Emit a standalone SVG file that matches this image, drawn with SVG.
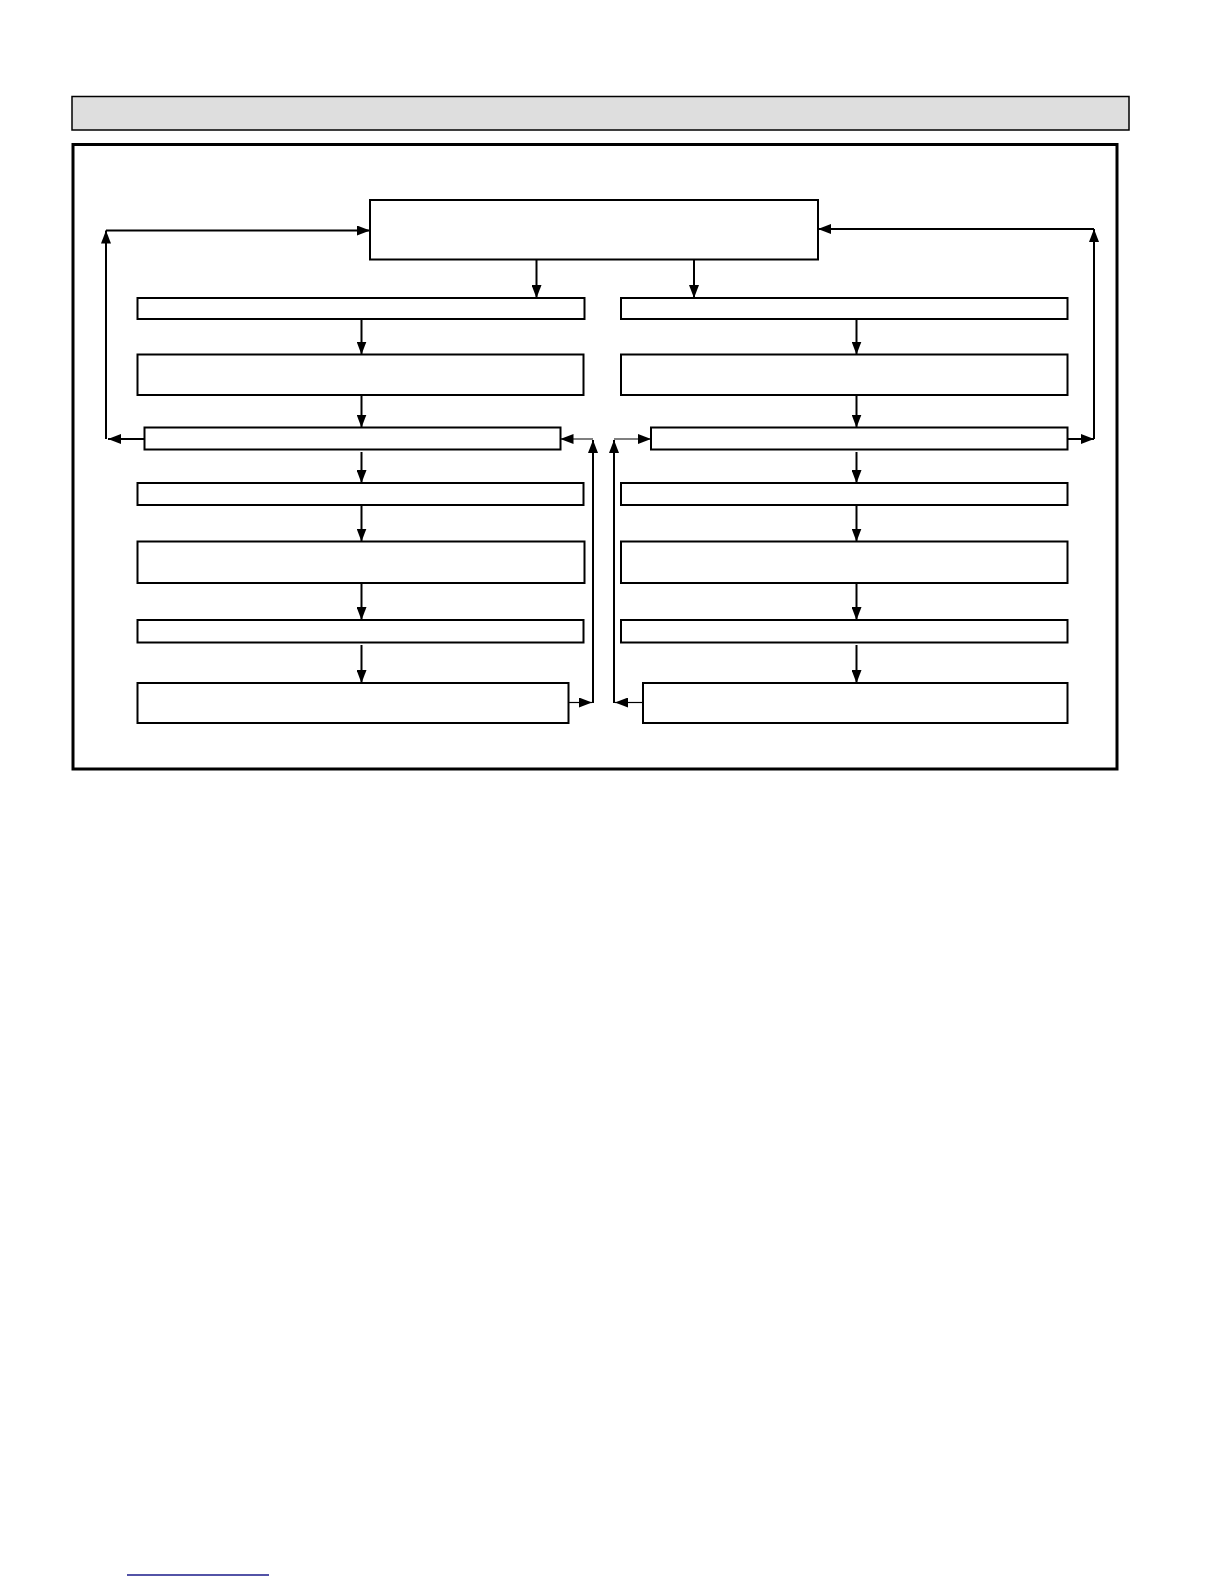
<svg xmlns="http://www.w3.org/2000/svg" width="1224" height="1584" viewBox="0 0 1224 1584">
<style>
.box{fill:#fff;stroke:#000;stroke-width:2}
.c{fill:none;stroke:#000;stroke-width:2}
.t{fill:none;stroke:#000;stroke-width:1.2}
</style>
<defs>
<marker id="ah" markerUnits="userSpaceOnUse" markerWidth="13" markerHeight="10" refX="13" refY="5" orient="auto">
<path d="M0,0 L13,5 L0,10 z" fill="#000"/>
</marker>
</defs>
<rect width="1224" height="1584" fill="#fff"/>
<g id="header"><rect x="72" y="96.5" width="1057" height="33.5" fill="#dedede" stroke="#000" stroke-width="1.5"/></g>
<g id="frame"><rect x="73" y="144.5" width="1044" height="624.5" fill="none" stroke="#000" stroke-width="3"/></g>
<g id="top"><rect class="box" x="370" y="200" width="448" height="59.5"/></g>
<g id="L1"><rect class="box" x="137.5" y="298" width="447" height="21"/></g>
<g id="L2"><rect class="box" x="137.5" y="354.5" width="446" height="40.5"/></g>
<g id="L3"><rect class="box" x="144.5" y="427.5" width="416" height="22"/></g>
<g id="L4"><rect class="box" x="137.5" y="483" width="446" height="22"/></g>
<g id="L5"><rect class="box" x="137.5" y="541.5" width="447" height="41.5"/></g>
<g id="L6"><rect class="box" x="137.5" y="620" width="446" height="22.5"/></g>
<g id="L7"><rect class="box" x="137.5" y="683" width="431" height="40"/></g>
<g id="R1"><rect class="box" x="621" y="298" width="446.5" height="21"/></g>
<g id="R2"><rect class="box" x="621" y="354.5" width="446.5" height="40.5"/></g>
<g id="R3"><rect class="box" x="651" y="427.5" width="416.5" height="22"/></g>
<g id="R4"><rect class="box" x="621" y="483" width="446.5" height="22"/></g>
<g id="R5"><rect class="box" x="621" y="541.5" width="446.5" height="41.5"/></g>
<g id="R6"><rect class="box" x="621" y="620" width="446.5" height="22.5"/></g>
<g id="R7"><rect class="box" x="643" y="683" width="424.5" height="40"/></g>
<g id="connectors">
<line class="c" x1="536.5" y1="259.5" x2="536.5" y2="298" marker-end="url(#ah)"/>
<line class="c" x1="694" y1="259.5" x2="694" y2="298" marker-end="url(#ah)"/>
<line class="c" x1="361.5" y1="320" x2="361.5" y2="354.5" marker-end="url(#ah)"/>
<line class="c" x1="361.5" y1="395" x2="361.5" y2="427.5" marker-end="url(#ah)"/>
<line class="c" x1="361.5" y1="452" x2="361.5" y2="483" marker-end="url(#ah)"/>
<line class="c" x1="361.5" y1="505" x2="361.5" y2="541.5" marker-end="url(#ah)"/>
<line class="c" x1="361.5" y1="583" x2="361.5" y2="620" marker-end="url(#ah)"/>
<line class="c" x1="361.5" y1="645" x2="361.5" y2="683" marker-end="url(#ah)"/>
<line class="c" x1="856.5" y1="320" x2="856.5" y2="354.5" marker-end="url(#ah)"/>
<line class="c" x1="856.5" y1="395" x2="856.5" y2="427.5" marker-end="url(#ah)"/>
<line class="c" x1="856.5" y1="452" x2="856.5" y2="483" marker-end="url(#ah)"/>
<line class="c" x1="856.5" y1="505" x2="856.5" y2="541.5" marker-end="url(#ah)"/>
<line class="c" x1="856.5" y1="583" x2="856.5" y2="620" marker-end="url(#ah)"/>
<line class="c" x1="856.5" y1="645" x2="856.5" y2="683" marker-end="url(#ah)"/>
<line class="c" x1="144.5" y1="439" x2="108" y2="439" marker-end="url(#ah)"/>
<line class="c" x1="106" y1="439" x2="106" y2="230.5" marker-end="url(#ah)"/>
<line class="c" x1="106" y1="230.5" x2="370" y2="230.5" marker-end="url(#ah)"/>
<line class="c" x1="1067.5" y1="439" x2="1094" y2="439" marker-end="url(#ah)"/>
<line class="c" x1="1094" y1="439" x2="1094" y2="229" marker-end="url(#ah)"/>
<line class="c" x1="1094" y1="229" x2="818" y2="229" marker-end="url(#ah)"/>
<line class="t" x1="568.5" y1="702.5" x2="592" y2="702.5" marker-end="url(#ah)"/>
<line class="c" x1="593" y1="703" x2="593" y2="440" marker-end="url(#ah)"/>
<line class="t" x1="593" y1="439" x2="560.5" y2="439" marker-end="url(#ah)"/>
<line class="t" x1="643" y1="702.5" x2="615" y2="702.5" marker-end="url(#ah)"/>
<line class="c" x1="614" y1="703" x2="614" y2="440" marker-end="url(#ah)"/>
<line class="t" x1="614" y1="439" x2="651" y2="439" marker-end="url(#ah)"/>
</g>
<line x1="127" y1="1575" x2="269" y2="1575" stroke="#1a1a8a" stroke-width="1.5"/>
</svg>
